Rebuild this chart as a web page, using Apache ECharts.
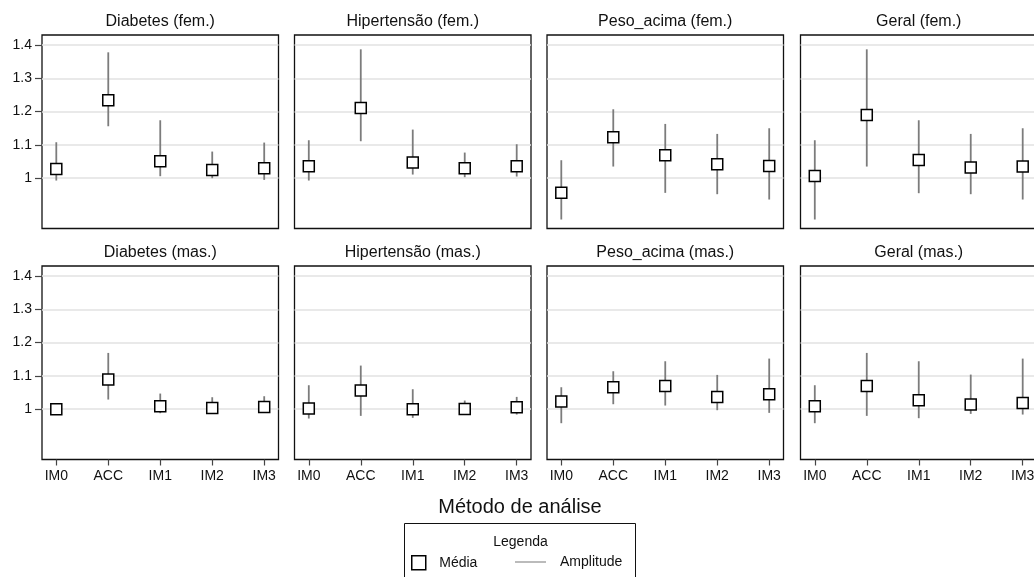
<!DOCTYPE html>
<html>
<head>
<meta charset="utf-8">
<script src="https://cdn.jsdelivr.net/npm/echarts@6/dist/echarts.min.js"></script>
<style>
html,body{margin:0;padding:0;background:#fff;}
#chart{width:1034px;height:577px;}
</style>
</head>
<body>
<div id="chart"></div>
<script>
// ---- data ----
const categories = ['IM0', 'ACC', 'IM1', 'IM2', 'IM3'];
const yTickValues = [1, 1.1, 1.2, 1.3, 1.4];
const panelTitles = ['Diabetes (fem.)', 'Hipertensão (fem.)', 'Peso_acima (fem.)', 'Geral (fem.)',
                     'Diabetes (mas.)', 'Hipertensão (mas.)', 'Peso_acima (mas.)', 'Geral (mas.)'];

const meanDiabetesFem = [1.028, 1.234, 1.051, 1.025, 1.030];
const lowDiabetesFem  = [0.993, 1.156, 1.006, 1.000, 0.995];
const highDiabetesFem = [1.108, 1.378, 1.174, 1.080, 1.107];

const meanHipertensaoFem = [1.036, 1.211, 1.047, 1.030, 1.036];
const lowHipertensaoFem  = [0.993, 1.111, 1.011, 1.003, 1.005];
const highHipertensaoFem = [1.114, 1.387, 1.146, 1.077, 1.102];

const meanPesoFem = [0.956, 1.123, 1.069, 1.042, 1.037];
const lowPesoFem  = [0.876, 1.035, 0.956, 0.952, 0.936];
const highPesoFem = [1.054, 1.207, 1.163, 1.133, 1.150];

const meanGeralFem = [1.007, 1.190, 1.055, 1.032, 1.035];
const lowGeralFem  = [0.876, 1.035, 0.955, 0.952, 0.936];
const highGeralFem = [1.114, 1.387, 1.174, 1.133, 1.150];

const meanDiabetesMas = [1.000, 1.089, 1.009, 1.004, 1.007];
const lowDiabetesMas  = [0.998, 1.029, 0.988, 0.998, 1.000];
const highDiabetesMas = [1.003, 1.169, 1.047, 1.036, 1.039];

const meanHipertensaoMas = [1.002, 1.056, 1.000, 1.001, 1.006];
const lowHipertensaoMas  = [0.972, 0.980, 0.974, 0.997, 0.984];
const highHipertensaoMas = [1.072, 1.131, 1.060, 1.026, 1.037];

const meanPesoMas = [1.023, 1.066, 1.070, 1.037, 1.045];
const lowPesoMas  = [0.958, 1.015, 1.011, 0.997, 0.989];
const highPesoMas = [1.066, 1.114, 1.144, 1.103, 1.152];

const meanGeralMas = [1.009, 1.070, 1.027, 1.014, 1.019];
const lowGeralMas  = [0.958, 0.980, 0.973, 0.986, 0.984];
const highGeralMas = [1.072, 1.169, 1.144, 1.104, 1.152];

const panelMeans = [meanDiabetesFem, meanHipertensaoFem, meanPesoFem, meanGeralFem,
                    meanDiabetesMas, meanHipertensaoMas, meanPesoMas, meanGeralMas];
const panelLows = [lowDiabetesFem, lowHipertensaoFem, lowPesoFem, lowGeralFem,
                   lowDiabetesMas, lowHipertensaoMas, lowPesoMas, lowGeralMas];
const panelHighs = [highDiabetesFem, highHipertensaoFem, highPesoFem, highGeralFem,
                    highDiabetesMas, highHipertensaoMas, highPesoMas, highGeralMas];

// ---- layout ----
const FONT = '"Liberation Sans", Arial, Helvetica, sans-serif';
const colLefts = [42, 294.5, 547, 800.5];
const rowTops = [35, 266];
const gridW = 236.5, gridH = 193.5;
const catIdx = categories.map((c, i) => i);

const grids = [], xAxes = [], yAxes = [], series = [], graphics = [];
for (let p = 0; p < 8; p++) {
  const r = Math.floor(p / 4), c = p % 4;
  grids.push({left: colLefts[c], top: rowTops[r], width: gridW, height: gridH,
    outerBoundsMode: 'none', containLabel: false,
    show: true, borderColor: '#111', borderWidth: 1.3, backgroundColor: '#fff'});
  const bottomRow = r === 1, leftCol = c === 0;
  xAxes.push({type: 'value', gridIndex: p, min: -0.275, max: 4.275, position: 'bottom',
    axisLine: {show: false, onZero: false},
    axisTick: {show: bottomRow, inside: false, length: 6, customValues: catIdx, lineStyle: {color: '#444', width: 1.2}},
    axisLabel: {show: bottomRow, customValues: catIdx, margin: 10, color: '#111', fontSize: 14, fontFamily: FONT,
      formatter: v => categories[Math.round(v)]},
    splitLine: {show: false}});
  yAxes.push({type: 'value', gridIndex: p, min: 0.849, max: 1.43, position: 'left',
    axisLine: {show: false, onZero: false},
    axisTick: {show: leftCol, inside: false, length: 7, customValues: yTickValues, lineStyle: {color: '#444', width: 1.2}},
    axisLabel: {show: leftCol, customValues: yTickValues, margin: 10, color: '#111', fontSize: 14, fontFamily: FONT,
      formatter: v => String(Math.round(v * 10) / 10)},
    splitLine: {show: true, lineStyle: {color: '#e2e2e2', width: 1.5}}});
  series.push({type: 'custom', name: 'Amplitude', xAxisIndex: p, yAxisIndex: p, z: 2,
    itemStyle: {color: '#7c7c7c'},
    encode: {x: 0, y: [1, 2]},
    data: catIdx.map(i => [i, panelLows[p][i], panelHighs[p][i]]),
    renderItem: function (params, api) {
      const x = api.value(0);
      const lo = api.coord([x, api.value(1)]);
      const hi = api.coord([x, api.value(2)]);
      return {type: 'line', shape: {x1: lo[0], y1: lo[1], x2: hi[0], y2: hi[1]},
        style: {stroke: '#7c7c7c', lineWidth: 1.8}};
    }});
  series.push({type: 'scatter', name: 'Média', xAxisIndex: p, yAxisIndex: p, z: 5,
    symbol: 'rect', symbolSize: 11,
    itemStyle: {color: '#fff', borderColor: '#000', borderWidth: 1.5, opacity: 1},
    data: catIdx.map(i => [i, panelMeans[p][i]])});
  graphics.push({type: 'text', x: colLefts[c] + gridW / 2, y: r === 0 ? 22 : 253,
    style: {text: panelTitles[p], align: 'center', verticalAlign: 'middle', fill: '#111',
      font: '16px ' + FONT}});
}

graphics.push({type: 'text', x: 520, y: 507,
  style: {text: 'Método de análise', align: 'center', verticalAlign: 'middle', fill: '#111', font: '20px ' + FONT}});
graphics.push({type: 'rect', shape: {x: 404.5, y: 523.5, width: 231, height: 80},
  style: {fill: 'none', stroke: '#111', lineWidth: 1}});
graphics.push({type: 'text', x: 520.5, y: 542,
  style: {text: 'Legenda', align: 'center', verticalAlign: 'middle', fill: '#111', font: '14px ' + FONT}});

const option = {
  animation: false,
  backgroundColor: '#fff',
  grid: grids,
  xAxis: xAxes,
  yAxis: yAxes,
  series: series,
  graphic: graphics,
  legend: [
    {left: 411, top: 555, padding: 0, itemWidth: 31, itemHeight: 14, selectedMode: false,
      textStyle: {fontSize: 14, color: '#111', fontFamily: FONT},
      data: [{name: 'Média', icon: 'path://M0,0L10,0L10,10L0,10Z',
        itemStyle: {color: '#fff', borderColor: '#000', borderWidth: 1.5}}]},
    {left: 515, top: 555, padding: 0, itemWidth: 31, itemHeight: 14, selectedMode: false,
      textStyle: {fontSize: 14, color: '#111', fontFamily: FONT, padding: [0, 0, 0, 9]},
      data: [{name: 'Amplitude', icon: 'path://M0,0L30,0L30,1L0,1Z',
        itemStyle: {color: '#7c7c7c', borderWidth: 0}}]}
  ]
};

const chart = echarts.init(document.getElementById('chart'), null, {renderer: 'canvas'});
chart.setOption(option);
</script>
</body>
</html>
